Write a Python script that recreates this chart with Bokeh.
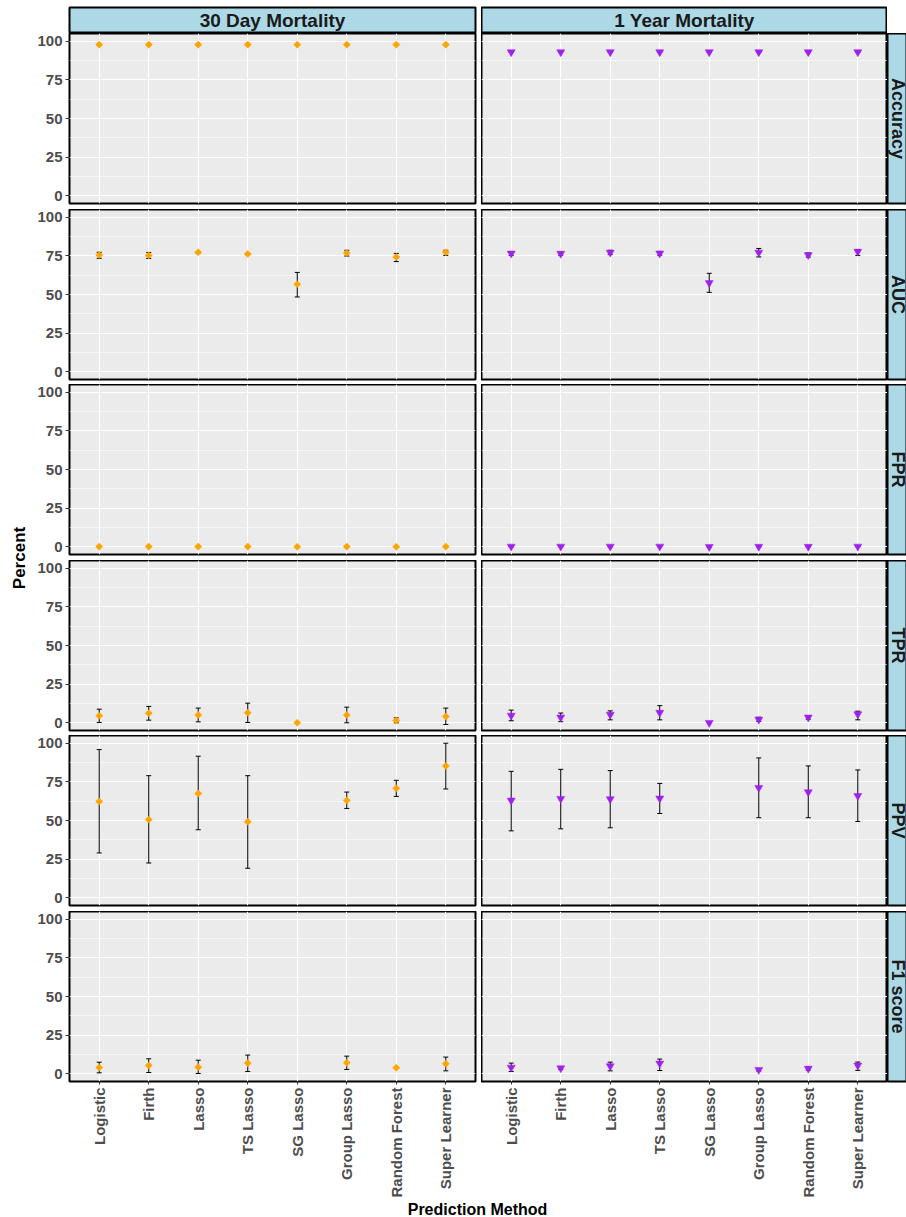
import math
import numpy as np
from bokeh.plotting import figure
from bokeh.models import GridPlot, FixedTicker, Range1d, FactorRange, Label, CategoricalTicker
from bokeh.embed import file_html
from bokeh.resources import INLINE

# ---------------- data ----------------
methods = ["Logistic", "Firth", "Lasso", "TS Lasso", "SG Lasso",
           "Group Lasso", "Random Forest", "Super Learner"]
outcomes = ["30 Day Mortality", "1 Year Mortality"]
metrics = ["Accuracy", "AUC", "FPR", "TPR", "PPV", "F1 score"]
y_ticks = [0, 25, 50, 75, 100]
y_minor = [12.5, 37.5, 62.5, 87.5]
nan = float("nan")

# 30 Day Mortality
acc30 = [97.8, 97.8, 97.8, 97.8, 97.8, 97.8, 97.8, 97.8]
acc30_lo = [97.6, 97.6, 97.6, 97.6, 97.6, 97.6, 97.6, 97.6]
acc30_hi = [98.0, 98.0, 98.0, 98.0, 98.0, 98.0, 98.0, 98.0]
auc30 = [75.6, 75.3, 77.3, 76.2, 56.6, 76.9, 74.3, 77.3]
auc30_lo = [73.4, 73.3, 76.8, 75.8, 48.4, 74.9, 71.3, 75.3]
auc30_hi = [77.3, 77.2, 77.8, 76.6, 64.3, 78.6, 76.6, 78.6]
fpr30 = [0.1, 0.1, 0.1, 0.1, 0.0, 0.1, 0.0, 0.1]
fpr30_lo = [0.0, 0.0, 0.0, 0.0, 0.0, 0.0, 0.0, 0.0]
fpr30_hi = [0.2, 0.2, 0.2, 0.2, 0.0, 0.2, 0.1, 0.2]
tpr30 = [4.5, 6.2, 5.0, 6.5, 0.0, 5.0, 1.5, 4.1]
tpr30_lo = [0.2, 1.7, 0.6, 0.2, nan, 0.0, 0.0, -1.1]
tpr30_hi = [8.8, 10.6, 9.5, 12.7, nan, 10.1, 3.2, 9.5]
ppv30 = [62.3, 50.6, 67.5, 49.2, nan, 63.0, 70.8, 85.3]
ppv30_lo = [29.0, 22.5, 44.0, 19.1, nan, 57.8, 65.6, 70.4]
ppv30_hi = [95.9, 79.0, 91.6, 79.0, nan, 68.4, 76.0, 100.0]
f130 = [4.1, 5.4, 4.3, 6.9, nan, 7.1, 3.9, 6.5]
f130_lo = [0.6, 0.8, 0.2, 1.5, nan, 2.8, 3.9, 1.9]
f130_hi = [7.5, 9.7, 8.8, 12.1, nan, 11.4, 3.9, 10.8]

# 1 Year Mortality
acc1y = [93.0, 93.0, 93.0, 93.0, 93.0, 93.0, 93.0, 93.0]
acc1y_lo = [92.8, 92.8, 92.8, 92.8, 92.8, 92.8, 92.8, 92.8]
acc1y_hi = [93.2, 93.2, 93.2, 93.2, 93.2, 93.2, 93.2, 93.2]
auc1y = [76.6, 76.5, 77.2, 76.6, 57.5, 77.2, 75.6, 77.8]
auc1y_lo = [75.3, 75.4, 75.8, 75.4, 51.4, 74.3, 74.2, 75.3]
auc1y_hi = [77.8, 77.5, 78.6, 77.9, 63.7, 79.8, 76.9, 79.0]
fpr1y = [0.2, 0.2, 0.2, 0.2, 0.0, 0.1, 0.1, 0.2]
fpr1y_lo = [0.1, 0.1, 0.1, 0.1, 0.0, 0.0, 0.0, 0.1]
fpr1y_hi = [0.3, 0.3, 0.3, 0.3, 0.0, 0.2, 0.2, 0.3]
tpr1y = [4.7, 3.5, 5.3, 6.6, 0.0, 2.1, 3.5, 5.6]
tpr1y_lo = [1.3, 0.7, 1.9, 1.9, nan, 0.9, 2.3, 1.9]
tpr1y_hi = [8.2, 6.3, 7.7, 11.1, nan, 3.6, 4.7, 7.5]
ppv1y = [63.0, 64.1, 63.9, 64.3, nan, 71.2, 68.4, 66.0]
ppv1y_lo = [43.3, 44.6, 45.3, 54.5, nan, 51.8, 51.8, 49.4]
ppv1y_hi = [81.8, 83.1, 82.3, 74.0, nan, 90.5, 85.3, 82.7]
f11y = [4.1, 3.7, 5.0, 6.7, nan, 2.6, 3.4, 5.4]
f11y_lo = [1.5, 2.7, 1.9, 2.1, nan, 1.8, 2.4, 2.2]
f11y_hi = [6.9, 4.7, 7.5, 9.5, nan, 3.4, 4.4, 7.6]

series = {
    ("Accuracy", 0): (acc30, acc30_lo, acc30_hi), ("Accuracy", 1): (acc1y, acc1y_lo, acc1y_hi),
    ("AUC", 0): (auc30, auc30_lo, auc30_hi), ("AUC", 1): (auc1y, auc1y_lo, auc1y_hi),
    ("FPR", 0): (fpr30, fpr30_lo, fpr30_hi), ("FPR", 1): (fpr1y, fpr1y_lo, fpr1y_hi),
    ("TPR", 0): (tpr30, tpr30_lo, tpr30_hi), ("TPR", 1): (tpr1y, tpr1y_lo, tpr1y_hi),
    ("PPV", 0): (ppv30, ppv30_lo, ppv30_hi), ("PPV", 1): (ppv1y, ppv1y_lo, ppv1y_hi),
    ("F1 score", 0): (f130, f130_lo, f130_hi), ("F1 score", 1): (f11y, f11y_lo, f11y_hi),
}

# ---------------- styling ----------------
FONT = "Liberation Sans"
STRIP_FILL = "#ADD8E6"
PANEL_BG = "#EBEBEB"
TICK_COL = "#4D4D4D"
FRAME_W = 406
FRAME_H = 170
LEFT_B = 34
GAP_W = 6
STRIP_W = 20
YLAB_W = 34
TOP_PAD = 7
TOP_STRIP_H = 26
row_gaps = [6, 5, 6, 5, 6, 119]
XLAB_H = 17


def base_fig(**kw):
    p = figure(output_backend="svg", toolbar_location=None, tools="", **kw)
    p.title.visible = False
    return p


def make_panel(i, j):
    left = j == 0
    bottom = i == len(metrics) - 1
    p = base_fig(frame_width=FRAME_W, frame_height=FRAME_H,
                 x_range=FactorRange(factors=methods, range_padding=0.1,
                                     range_padding_units="absolute"),
                 y_range=Range1d(-5, 105),
                 x_axis_location="below" if bottom else None,
                 y_axis_location="left" if left else None,
                 min_border_left=LEFT_B if left else 0,
                 min_border_right=GAP_W if left else 0,
                 min_border_top=0, min_border_bottom=row_gaps[i])
    p.background_fill_color = PANEL_BG
    p.border_fill_color = "white"
    p.outline_line_color = "black"
    p.outline_line_width = 2
    p.xgrid.ticker = CategoricalTicker()
    p.xgrid.grid_line_color = "white"
    p.xgrid.grid_line_width = 1.1
    p.ygrid.ticker = FixedTicker(ticks=y_ticks, minor_ticks=y_minor)
    p.ygrid.grid_line_color = "white"
    p.ygrid.grid_line_width = 1.1
    p.ygrid.minor_grid_line_color = "white"
    p.ygrid.minor_grid_line_width = 0.55
    for ax in p.axis:
        ax.axis_line_color = None
        ax.major_tick_line_color = "#333333"
        ax.major_tick_out = 4
        ax.major_tick_in = 0
        ax.minor_tick_line_color = None
        ax.major_label_text_font = FONT
        ax.major_label_text_font_style = "bold"
        ax.major_label_text_font_size = "15px"
        ax.major_label_text_color = TICK_COL
        ax.major_label_standoff = 3
    if left:
        p.yaxis.ticker = FixedTicker(ticks=y_ticks)
    if bottom:
        p.xaxis.major_label_orientation = math.pi / 2
        p.xaxis.major_tick_out = 3
        p.xaxis.major_label_standoff = 3

    est, lo, hi = series[(metrics[i], j)]
    est = np.array(est, dtype=float)
    lo = np.array(lo, dtype=float)
    hi = np.array(hi, dtype=float)
    p.segment(x0=methods, y0=lo, x1=methods, y1=hi, line_color="black", line_width=1)
    p.scatter(x=methods, y=lo, marker="dash", size=5, line_color="black", line_width=1)
    p.scatter(x=methods, y=hi, marker="dash", size=5, line_color="black", line_width=1)
    if j == 0:
        p.scatter(x=methods, y=est, marker="square", angle=math.pi / 4, size=5,
                  fill_color="#FFA500", line_color="#FFA500", line_width=0.6)
    else:
        p.scatter(x=methods, y=est, marker="inverted_triangle", size=8,
                  fill_color="#A020F0", line_color="#A020F0", line_width=0.5)
    return p


def strip_fig(fw, fh, text, angle, size, **kw):
    p = base_fig(frame_width=fw, frame_height=fh, x_range=Range1d(0, 1), y_range=Range1d(0, 1),
                 x_axis_location=None, y_axis_location=None, **kw)
    p.grid.visible = False
    p.background_fill_color = STRIP_FILL
    p.border_fill_color = "white"
    p.outline_line_color = "black"
    p.outline_line_width = 2
    p.add_layout(Label(x=0.5, y=0.5, text=text, angle=angle, text_align="center",
                       text_baseline="middle", text_font=FONT, text_font_style="bold",
                       text_font_size=size, text_color="#1A1A1A"))
    return p


children = []
# top strips
children.append((strip_fig(FRAME_W, TOP_STRIP_H, outcomes[0], 0, "19px",
                           min_border_left=LEFT_B, min_border_right=GAP_W,
                           min_border_top=TOP_PAD, min_border_bottom=0), 0, 1))
children.append((strip_fig(FRAME_W, TOP_STRIP_H, outcomes[1], 0, "19px",
                           min_border_left=0, min_border_right=0,
                           min_border_top=TOP_PAD, min_border_bottom=0), 0, 2))
# panels and right strips
for i, m in enumerate(metrics):
    for j in range(2):
        children.append((make_panel(i, j), i + 1, j + 1))
    children.append((strip_fig(STRIP_W, FRAME_H, m, -math.pi / 2, "18px",
                               min_border_left=0, min_border_right=0,
                               min_border_top=0, min_border_bottom=row_gaps[i]), i + 1, 3))

# global y label
total_h = sum(FRAME_H + g for g in row_gaps)
ylab = base_fig(frame_width=YLAB_W, frame_height=total_h, x_range=Range1d(0, YLAB_W),
                y_range=Range1d(0, total_h), x_axis_location=None, y_axis_location=None,
                min_border=0)
ylab.grid.visible = False
ylab.outline_line_color = None
ylab.add_layout(Label(x=19, y=total_h - 524.5, text="Percent", angle=math.pi / 2,
                      text_align="center", text_baseline="middle", text_font=FONT,
                      text_font_style="bold", text_font_size="17px", text_color="black"))
children.append((ylab, 1, 0, len(metrics), 1))

# global x label
TOTAL_W = YLAB_W + LEFT_B + FRAME_W + GAP_W + FRAME_W + STRIP_W
xlab = base_fig(frame_width=TOTAL_W, frame_height=XLAB_H, x_range=Range1d(0, TOTAL_W),
                y_range=Range1d(0, XLAB_H), x_axis_location=None, y_axis_location=None,
                min_border=0)
xlab.grid.visible = False
xlab.outline_line_color = None
xlab.add_layout(Label(x=477, y=XLAB_H, text="Prediction Method", text_align="center",
                      text_baseline="top", text_font=FONT, text_font_style="bold",
                      text_font_size="16px", text_color="black"))
children.append((xlab, len(metrics) + 1, 0, 1, 4))

grid = GridPlot(children=children, toolbar_location=None)

open("out.html", "w").write(file_html(grid, INLINE))
